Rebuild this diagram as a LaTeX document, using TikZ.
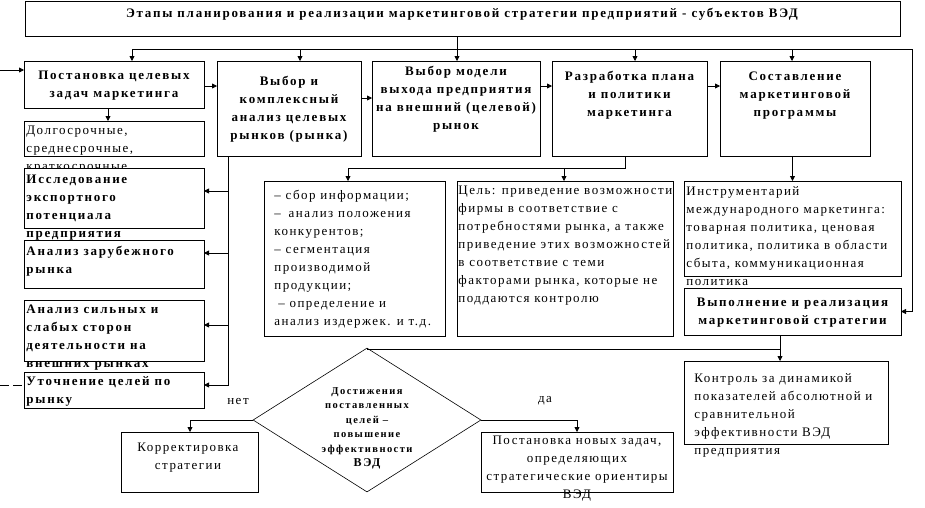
\documentclass[tikz,border=0pt]{standalone}
\usepackage{fontspec}
\setmainfont{Liberation Serif}[LetterSpace=11.5, BoldFeatures={LetterSpace=13.5}]
\usetikzlibrary{arrows.meta,shapes.geometric}

\begin{document}
\begin{tikzpicture}[x=1pt, y=-1pt, line width=0.8pt,
  font=\fontsize{13}{18}\selectfont,
  frame/.style={draw, fill=white, line width=1pt, inner sep=0pt, outer sep=0pt},
  head/.style={font=\fontsize{13}{18}\selectfont\bfseries, align=center, anchor=north, inner sep=0pt},
  sidehead/.style={font=\fontsize{13}{18}\selectfont\bfseries, align=left, anchor=north west, inner sep=0pt},
  note/.style={align=left, anchor=north west, inner sep=0pt},
  midnote/.style={align=center, anchor=north, inner sep=0pt},
  arr/.style={-{Triangle[length=5pt,width=5pt]}}]
\useasboundingbox[fill=white] (0,0) rectangle (925,507);

%%%%%%%%%%%%%%%%%%%%%%%%%%%%%%%%%%%%%%%%
% title and first row of stages
\node[frame, minimum width=875pt, minimum height=34.5pt] (title) at (462.5,18.75) {};
\node[head] (title-t) at (462,8)
  {Этапы планирования и реализации маркетинговой стратегии предприятий - субъектов ВЭД};

\node[frame, minimum width=180pt, minimum height=47pt] (setgoal) at (114,84.5) {};
\node[head] (setgoal-t) at (114,71) {Постановка целевых\\задач маркетинга};
\node[frame, minimum width=144pt, minimum height=95pt] (market) at (289,108.5) {};
\node[head] (market-t) at (289,76) {Выбор и\\комплексный\\анализ целевых\\рынков (рынка)};
\node[frame, minimum width=168pt, minimum height=95pt] (entry) at (456,108.5) {};
\node[head] (entry-t) at (456,66) {Выбор модели\\выхода предприятия\\на внешний (целевой)\\рынок};
\node[frame, minimum width=155pt, minimum height=95pt] (plan) at (629.5,108.5) {};
\node[head] (plan-t) at (629.5,71) {Разработка плана\\и политики\\маркетинга};
\node[frame, minimum width=150pt, minimum height=95pt] (program) at (795,108.5) {};
\node[head] (program-t) at (795,71) {Составление\\маркетинговой\\программы};

%%%%%%%%%%%%%%%%%%%%%%%%%%%%%%%%%%%%%%%%
% left column
\node[frame, minimum width=180pt, minimum height=35pt] (horizon) at (114,138.5) {};
\node[note] (horizon-t) at (26,126) {Долгосрочные,\\среднесрочные,\\краткосрочные};
\node[frame, minimum width=180pt, minimum height=60pt] (export) at (114,198) {};
\node[sidehead] (export-t) at (26,175) {Исследование\\экспортного\\потенциала\\предприятия};
\node[frame, minimum width=180pt, minimum height=48pt] (foreign) at (114,264) {};
\node[sidehead] (foreign-t) at (26,246) {Анализ зарубежного\\рынка};
\node[frame, minimum width=180pt, minimum height=61pt] (swot) at (114,330.5) {};
\node[sidehead] (swot-t) at (26,305) {Анализ сильных и\\слабых сторон\\деятельности на\\внешних рынках};
\node[frame, minimum width=180pt, minimum height=36pt] (refine) at (114,390) {};
\node[sidehead] (refine-t) at (26,376) {Уточнение целей по\\рынку};

%%%%%%%%%%%%%%%%%%%%%%%%%%%%%%%%%%%%%%%%
% middle and right column
\node[frame, minimum width=181pt, minimum height=155pt] (tasks) at (354.5,258.5) {};
\node[note] (tasks-t) at (274,190) {– сбор информации;\\–\hspace{0.6em}анализ положения\\конкурентов;\\– сегментация\\производимой\\продукции;\\\hspace{0.3em}– определение и\\анализ издержек. и т.д.};
\node[frame, minimum width=216pt, minimum height=155pt] (aim) at (565,258.5) {};
\node[note] (aim-t) at (458,186) {Цель: приведение возможности\\фирмы в соответствие с\\потребностями рынка, а также\\приведение этих возможностей\\в соответствие с теми\\факторами рынка, которые не\\поддаются контролю};
\node[frame, minimum width=217pt, minimum height=95pt] (tools) at (792.5,228.5) {};
\node[note] (tools-t) at (686,186) {Инструментарий\\международного маркетинга:\\товарная политика, ценовая\\политика, политика в области\\сбыта, коммуникационная\\политика};
\node[frame, minimum width=217pt, minimum height=47pt] (execute) at (792.5,311.5) {};
\node[head] (execute-t) at (792.5,298) {Выполнение и реализация\\маркетинговой стратегии};
\node[frame, minimum width=204pt, minimum height=83pt] (control) at (786,402.5) {};
\node[note] (control-t) at (694,373) {Контроль за динамикой\\показателей абсолютной и\\сравнительной\\эффективности ВЭД\\предприятия};

%%%%%%%%%%%%%%%%%%%%%%%%%%%%%%%%%%%%%%%%
% decision
\node[diamond, draw, line width=0.6pt, minimum width=228pt, minimum height=144pt, inner sep=0pt] (check) at (367,420) {};
\node[head, font=\fontsize{10.5}{14.5}\selectfont\bfseries] (check-t) at (367,387)
  {Достижения\\поставленных\\целей –\\повышение\\эффективности\\{\fontsize{12}{14.5}\selectfont ВЭД}};
\node[frame, minimum width=137pt, minimum height=60pt] (adjust) at (190,462) {};
\node[midnote] (adjust-t) at (188,443) {Корректировка\\стратегии};
\node[frame, minimum width=192pt, minimum height=60pt] (newtasks) at (577,462) {};
\node[midnote] (newtasks-t) at (577,436) {Постановка новых задач,\\определяющих\\стратегические ориентиры\\ВЭД};
\node (no) at (238,401) {нет};
\node (yes) at (545,401) {да};

%%%%%%%%%%%%%%%%%%%%%%%%%%%%%%%%%%%%%%%%
% connectors
\coordinate (fork) at (457,49);
\coordinate (busL) at (132,49);
\coordinate (busR) at (912,49);
\draw (title.south -| fork) -- (fork);
\draw[arr] (busL) -- (busR) -- (busR |- execute.east) -- (execute.east);
\foreach \x/\n in {132/setgoal, 300/market, 457/entry, 635/plan, 792/program}
  \draw[arr] (\x,0 |- fork) -- (\x,0 |- \n.north);

\draw[arr] (setgoal.east |- 0,86) -- (market.west |- 0,86);
\draw[arr] (market.east |- 0,98) -- (entry.west |- 0,98);
\draw[arr] (entry.east |- 0,86) -- (plan.west |- 0,86);
\draw[arr] (plan.east |- 0,86) -- (program.west |- 0,86);

\coordinate (inL) at (0,70);
\draw[arr] (inL) -- (inL -| setgoal.west);
\draw[arr] (108,0 |- setgoal.south) -- (108,0 |- horizon.north);

\coordinate (spine) at (228,385);
\draw[arr] (spine |- market.south) -- (spine) -- (spine -| refine.east);
\foreach \y/\n in {191/export, 253/foreign, 325/swot}
  \draw[arr] (spine |- 0,\y) -- (\n.east |- 0,\y);
\coordinate (outL) at (0,385);
\draw[dashed, dash pattern=on 9pt off 4pt] (outL) -- (outL -| refine.west);

\coordinate (split) at (625,168);
\draw[arr] (split |- plan.south) -- (split) -- (348,0 |- split) -- (348,0 |- tasks.north);
\draw[arr] (564,0 |- split) -- (564,0 |- aim.north);
\draw[arr] (tools.north |- program.south) -- (tools.north);

\coordinate (join) at (780,349);
\draw[arr] (join |- execute.south) -- (join |- control.north);
\draw (join) -| (check.north);
\draw[arr] (check.west) -| (adjust.north);
\draw[arr] (check.east) -| (newtasks.north);

\end{tikzpicture}
\end{document}
